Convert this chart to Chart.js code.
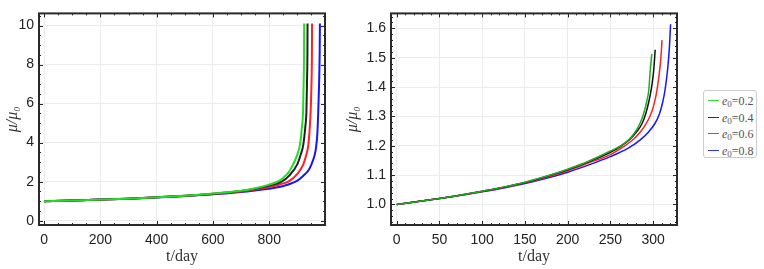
<!DOCTYPE html>
<html>
<head>
<meta charset="utf-8">
<script src="https://cdn.jsdelivr.net/npm/chart.js@4"></script>
<style>
  body { margin: 0; background: #fff; }
  #wrap { position: relative; width: 764px; height: 269px; }
  #c1 { position: absolute; left: 0; top: 0; }
  #c2 { position: absolute; left: 340px; top: 0; }
  #leyenda {
    position: absolute; left: 703px; top: 90px; width: 54px; height: 68px;
    border: 1px solid #ccc; border-radius: 3px; box-sizing: border-box;
    font-family: "Liberation Serif", "Times New Roman", serif; font-size: 12px; color: #555;
    padding-top: 2px;
  }
  .item { height: 16.5px; line-height: 16px; white-space: nowrap; }
  .muestra { display: inline-block; width: 11px; height: 0; border-top: 1px solid; vertical-align: 4px; margin: 0 3px 0 4px; }
  sub { font-size: 9px; vertical-align: -2px; }
</style>
</head>
<body>
<div id="wrap">
  <canvas id="c1" width="340" height="269"></canvas>
  <canvas id="c2" width="350" height="269"></canvas>
  <div id="leyenda"></div>
</div>
<script>
// valores de e0 de cada curva
const etiquetas = ['0.2', '0.4', '0.6', '0.8'];
const colores = ['#22dd22', '#222222', '#ff2020', '#1515ff'];
const coloresDer = ['#22aa22', '#111111', '#ff2020', '#1515ff'];
const coloresLeyenda = ['#33dd33', '#333333', '#ff3333', '#3333ff'];

// grafico izquierdo (t/day, mu/mu0)
const diasIzq_02 = [0, 100, 200, 300, 400, 500, 600, 700, 750, 800, 830, 850, 870, 885, 900, 909, 916, 920, 922, 923.5, 924];
const muIzq_02   = [1.0, 1.04, 1.08, 1.13, 1.2, 1.28, 1.39, 1.53, 1.66, 1.85, 2.0, 2.2, 2.5, 2.9, 3.4, 3.9, 4.8, 5.6, 7.0, 8.5, 10.1];
const diasIzq_04 = [0, 100, 200, 300, 400, 500, 600, 700, 750, 800, 844, 870, 900, 912, 921, 928, 932, 934, 935.5, 936];
const muIzq_04   = [1.0, 1.04, 1.08, 1.13, 1.2, 1.28, 1.38, 1.52, 1.64, 1.8, 2.0, 2.3, 2.9, 3.4, 3.9, 4.8, 5.6, 7.0, 8.5, 10.1];
const diasIzq_06 = [0, 100, 200, 300, 400, 500, 600, 700, 750, 800, 840, 868, 900, 921, 932, 939, 944, 947, 950, 951.5, 952];
const muIzq_06   = [1.0, 1.04, 1.08, 1.13, 1.2, 1.27, 1.37, 1.5, 1.6, 1.72, 1.87, 2.0, 2.4, 2.89, 3.4, 3.9, 4.8, 5.6, 7.0, 8.5, 10.1];
const diasIzq_08 = [0, 100, 200, 300, 400, 500, 600, 700, 750, 800, 850, 880, 900, 921, 940, 950, 960, 966, 971, 974, 977, 979, 980];
const muIzq_08   = [1.0, 1.04, 1.08, 1.13, 1.19, 1.26, 1.35, 1.47, 1.55, 1.64, 1.78, 1.92, 2.05, 2.3, 2.6, 2.89, 3.3, 3.73, 4.5, 5.58, 7.0, 8.5, 10.1];

// grafico derecho
const diasDer_02 = [0, 25, 50, 75, 100, 125, 150, 175, 200, 225, 250, 262, 272, 279, 284.5, 289, 292.5, 295, 296.5, 298.5];
const muDer_02   = [1.0, 1.01, 1.02, 1.032, 1.045, 1.059, 1.076, 1.096, 1.12, 1.148, 1.182, 1.2, 1.222, 1.247, 1.275, 1.31, 1.35, 1.39, 1.45, 1.513];
const diasDer_04 = [0, 25, 50, 75, 100, 125, 150, 175, 200, 225, 250, 263, 273, 281, 287, 291.5, 295, 298, 300.5, 302.5];
const muDer_04   = [1.0, 1.01, 1.02, 1.032, 1.045, 1.059, 1.075, 1.095, 1.118, 1.146, 1.178, 1.2, 1.222, 1.248, 1.275, 1.31, 1.35, 1.395, 1.45, 1.527];
const diasDer_06 = [0, 25, 50, 75, 100, 125, 150, 175, 200, 225, 250, 265, 277, 286, 292, 297, 301, 304, 307, 309, 310.5];
const muDer_06   = [1.0, 1.01, 1.02, 1.031, 1.044, 1.058, 1.074, 1.093, 1.115, 1.142, 1.17, 1.196, 1.222, 1.25, 1.276, 1.305, 1.34, 1.38, 1.44, 1.495, 1.56];
const diasDer_08 = [0, 25, 50, 75, 100, 125, 150, 175, 200, 225, 250, 270, 285, 295, 302, 307, 311, 314, 317, 319, 320.5];
const muDer_08   = [1.0, 1.01, 1.02, 1.031, 1.043, 1.056, 1.071, 1.089, 1.11, 1.135, 1.163, 1.19, 1.22, 1.248, 1.275, 1.305, 1.345, 1.39, 1.46, 1.53, 1.614];

// ticks
const ticksXIzq = [0, 200, 400, 600, 800];
const ticksYIzq = [0, 2, 4, 6, 8, 10];
const ticksXDer = [0, 50, 100, 150, 200, 250, 300];
const ticksYDer = [1.0, 1.1, 1.2, 1.3, 1.4, 1.5, 1.6];

function puntos(xs, ys) {
    return xs.map((x, i) => ({ x: x, y: ys[i] }));
}

// marco negro con marcas hacia adentro (como Mathematica)
const marcoPlugin = {
    id: 'marco',
    afterDraw(chart, args, opts) {
        const ctx = chart.ctx;
        const a = chart.chartArea;
        const sx = chart.scales.x, sy = chart.scales.y;
        ctx.save();
        ctx.strokeStyle = '#222';
        ctx.lineWidth = 1;
        const marca = (v, eje, largo) => {
            if (eje === 'x') {
                const p = Math.round(sx.getPixelForValue(v)) + 0.5;
                if (p < a.left + 1 || p > a.right - 1) return;
                ctx.beginPath();
                ctx.moveTo(p, a.bottom); ctx.lineTo(p, a.bottom - largo);
                ctx.moveTo(p, a.top); ctx.lineTo(p, a.top + largo);
                ctx.stroke();
            } else {
                const p = Math.round(sy.getPixelForValue(v)) + 0.5;
                if (p < a.top + 1 || p > a.bottom - 1) return;
                ctx.beginPath();
                ctx.moveTo(a.left, p); ctx.lineTo(a.left + largo, p);
                ctx.moveTo(a.right, p); ctx.lineTo(a.right - largo, p);
                ctx.stroke();
            }
        };
        for (let v = opts.xMin; v <= opts.xMax + 1e-9; v += opts.xMenor) marca(v, 'x', 2);
        for (let v = opts.yMin; v <= opts.yMax + 1e-9; v += opts.yMenor) marca(v, 'y', 2);
        opts.xMayor.forEach(v => marca(v, 'x', 4));
        opts.yMayor.forEach(v => marca(v, 'y', 4));
        ctx.lineWidth = 2;
        ctx.strokeStyle = '#2a2a2a';
        ctx.strokeRect(a.left, a.top, a.right - a.left, a.bottom - a.top);
        ctx.restore();
    }
};

function crearGrafico(id, series, cols, cfg) {
    const ctx = document.getElementById(id).getContext('2d');
    return new Chart(ctx, {
        type: 'line',
        data: {
            datasets: series.map((s, i) => ({
                label: 'e0=' + etiquetas[i],
                data: puntos(s[0], s[1]),
                borderColor: cols[i],
                borderWidth: cfg.grosor,
                pointRadius: 0,
                fill: false,
                cubicInterpolationMode: 'monotone'
            }))
        },
        options: {
            responsive: false,
            animation: false,
            layout: { padding: { top: 10, right: cfg.derecha, bottom: 0, left: 0 } },
            plugins: {
                legend: { display: false },
                tooltip: { enabled: false },
                marco: cfg.marco
            },
            scales: {
                x: {
                    type: 'linear',
                    min: cfg.xMin, max: cfg.xMax,
                    afterBuildTicks: sc => { sc.ticks = cfg.ticksX.map(v => ({ value: v })); },
                    afterFit: sc => { sc.height = 44; },
                    grid: { color: '#ececec', drawTicks: false },
                    border: { display: false },
                    ticks: {
                        padding: 7, color: '#222', maxRotation: 0,
                        font: { family: '"Liberation Sans", Arial, sans-serif', size: 14 },
                        callback: v => cfg.fmtX(v)
                    },
                    title: {
                        display: true, text: 't/day', color: '#333',
                        font: { family: '"Liberation Serif", "Times New Roman", serif', size: 16 },
                        padding: { top: 0, bottom: 3 }
                    }
                },
                y: {
                    type: 'linear',
                    min: cfg.yMin, max: cfg.yMax,
                    afterBuildTicks: sc => { sc.ticks = cfg.ticksY.map(v => ({ value: v })); },
                    afterFit: sc => { sc.width = cfg.anchoY; },
                    grid: { color: '#ececec', drawTicks: false },
                    border: { display: false },
                    ticks: {
                        padding: 5, color: '#222',
                        font: { family: '"Liberation Sans", Arial, sans-serif', size: 14 },
                        callback: v => cfg.fmtY(v)
                    },
                    title: {
                        display: true, text: 'μ/μ₀', color: '#333',
                        font: { family: '"Liberation Serif", "Times New Roman", serif', size: 16, style: 'italic' },
                        padding: { top: 3, bottom: 0 }
                    }
                }
            }
        },
        plugins: [marcoPlugin]
    });
}

crearGrafico('c1', [
    [diasIzq_02, muIzq_02], [diasIzq_04, muIzq_04], [diasIzq_06, muIzq_06], [diasIzq_08, muIzq_08]
], colores, {
    xMin: -18, xMax: 998, yMin: -0.22, yMax: 10.62,
    ticksX: ticksXIzq, ticksY: ticksYIzq,
    fmtX: v => String(v), fmtY: v => String(v),
    anchoY: 39, derecha: 15, grosor: 2,
    marco: { xMin: 0, xMax: 1000, xMenor: 50, yMin: 0, yMax: 10.5, yMenor: 0.5, xMayor: ticksXIzq, yMayor: ticksYIzq }
});

crearGrafico('c2', [
    [diasDer_02, muDer_02], [diasDer_04, muDer_04], [diasDer_06, muDer_06], [diasDer_08, muDer_08]
], coloresDer, {
    xMin: -6.7, xMax: 328, yMin: 0.93, yMax: 1.651,
    ticksX: ticksXDer, ticksY: ticksYDer,
    fmtX: v => String(v), fmtY: v => v.toFixed(1),
    anchoY: 51, derecha: 13, grosor: 1.5,
    marco: { xMin: 0, xMax: 330, xMenor: 10, yMin: 0.94, yMax: 1.65, yMenor: 0.02, xMayor: ticksXDer, yMayor: ticksYDer }
});

// leyenda
const ley = document.getElementById('leyenda');
etiquetas.forEach((e, i) => {
    const d = document.createElement('div');
    d.className = 'item';
    d.innerHTML = '<span class="muestra" style="border-color:' + coloresLeyenda[i] + '"></span><i>e</i><sub>0</sub>=' + e;
    ley.appendChild(d);
});
</script>
</body>
</html>
